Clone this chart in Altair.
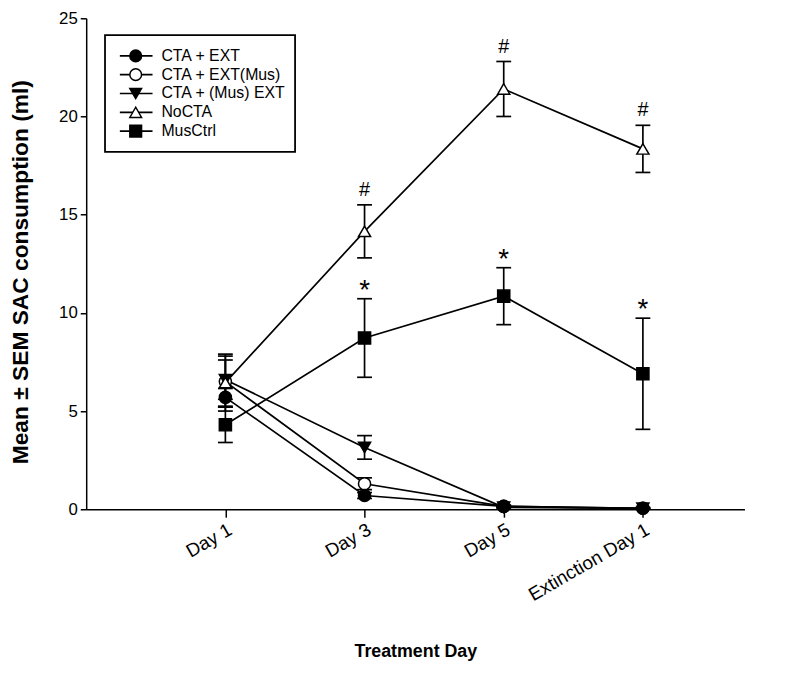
import altair as alt
import pandas as pd

days = ["Day 1", "Day 3", "Day 5", "Extinction Day 1"]
series = ["CTA + EXT", "CTA + EXT(Mus)", "CTA + (Mus) EXT", "NoCTA", "MusCtrl"]
draw_order = ["CTA + EXT(Mus)", "CTA + (Mus) EXT", "CTA + EXT", "MusCtrl", "NoCTA"]

cta_ext = [5.7, 0.7, 0.15, 0.05]
cta_ext_err = [0.45, 0.15, 0.05, 0.03]
cta_ext_mus = [6.5, 1.3, 0.15, 0.05]
cta_ext_mus_err = [1.3, 0.3, 0.05, 0.03]
cta_mus_ext = [6.6, 3.15, 0.1, 0.05]
cta_mus_ext_err = [1.0, 0.6, 0.05, 0.03]
nocta = [6.45, 14.15, 21.4, 18.35]
nocta_err = [1.45, 1.35, 1.4, 1.2]
musctrl = [4.3, 8.72, 10.85, 6.9]
musctrl_err = [0.9, 2.0, 1.45, 2.83]

annot_series = ["NoCTA", "NoCTA", "NoCTA", "MusCtrl", "MusCtrl", "MusCtrl"]
annot_day = ["Day 3", "Day 5", "Extinction Day 1", "Day 3", "Day 5", "Extinction Day 1"]
annot_sym = ["#", "#", "#", "*", "*", "*"]

means = [cta_ext, cta_ext_mus, cta_mus_ext, nocta, musctrl]
errs = [cta_ext_err, cta_ext_mus_err, cta_mus_ext_err, nocta_err, musctrl_err]

rows = []
for s, m, e in zip(series, means, errs):
    for i, d in enumerate(days):
        rows.append({"series": s, "day": d, "pos": i + 1, "mean": m[i],
                     "lo": m[i] - e[i], "hi": m[i] + e[i], "order": draw_order.index(s)})
df = pd.DataFrame(rows)

arows = []
for s, d, sym in zip(annot_series, annot_day, annot_sym):
    r = df[(df.series == s) & (df.day == d)].iloc[0]
    arows.append({"pos": r["pos"], "hi": r["hi"], "sym": sym})
adf = pd.DataFrame(arows)

FONT = "Liberation Sans"
shape_scale = alt.Scale(domain=series, range=["circle", "circle", "triangle-down", "triangle-up", "square"])
fill_scale = alt.Scale(domain=series, range=["black", "white", "black", "white", "black"])

label_expr = "datum.value == 1 ? 'Day 1' : datum.value == 2 ? 'Day 3' : datum.value == 3 ? 'Day 5' : 'Extinction Day 1'"

x_enc = alt.X("pos:Q", scale=alt.Scale(domain=[0, 4.73], nice=False, zero=False),
              axis=alt.Axis(values=[1, 2, 3, 4], labelExpr=label_expr, labelAngle=-30,
                            labelAlign="right", labelBaseline="top", labelFontSize=19,
                            labelFont=FONT, labelColor="black", tickSize=8, tickWidth=1.5,
                            tickColor="black", domainColor="black", domainWidth=1.5,
                            grid=False, title="Treatment Day", titleFont=FONT,
                            titleFontSize=18, titleFontWeight="bold", titleColor="black",
                            titleY=144, titleBaseline="middle", labelPadding=3))
y_scale = alt.Scale(domain=[0, 25], nice=False)
y_axis = alt.Axis(values=[0, 5, 10, 15, 20, 25], tickSize=6, tickWidth=1.5, tickColor="black",
                  domainColor="black", domainWidth=1.5, grid=False, labelFont=FONT,
                  labelFontSize=17, labelColor="black", labelPadding=3,
                  title="Mean ± SEM SAC consumption (ml)", titleFont=FONT, titleFontSize=23,
                  titleFontWeight="bold", titleColor="black", titleX=-66, titleY=256,
                  titleBaseline="middle", titleAlign="center", titleAngle=-90)

base = alt.Chart(df)
lines = base.mark_line(color="black", strokeWidth=1.7).encode(
    x=x_enc, y=alt.Y("mean:Q", scale=y_scale, axis=y_axis), detail="series:N")
bars = base.mark_rule(color="black", strokeWidth=1.7).encode(
    x="pos:Q", y="lo:Q", y2="hi:Q")
cap_hi = base.mark_tick(color="black", orient="horizontal", size=15, thickness=1.7, opacity=1).encode(
    x="pos:Q", y="hi:Q")
cap_lo = base.mark_tick(color="black", orient="horizontal", size=15, thickness=1.7, opacity=1).encode(
    x="pos:Q", y="lo:Q")
pts = base.mark_point(filled=True, stroke="black", strokeWidth=1.5, size=150, opacity=1).encode(
    x="pos:Q", y="mean:Q",
    shape=alt.Shape("series:N", scale=shape_scale, legend=None),
    fill=alt.Fill("series:N", scale=fill_scale, legend=None),
    order="order:Q")
ann_hash = alt.Chart(adf).transform_filter("datum.sym == '#'").mark_text(
    font=FONT, fontSize=20, color="black", baseline="bottom", dy=-5).encode(
    x="pos:Q", y="hi:Q", text="sym:N")
ann_star = alt.Chart(adf).transform_filter("datum.sym == '*'").mark_text(
    font=FONT, fontSize=28, color="black", baseline="bottom", dy=6).encode(
    x="pos:Q", y="hi:Q", text="sym:N")

main = alt.layer(lines, bars, cap_hi, cap_lo, pts, ann_hash, ann_star)

ldf = pd.DataFrame({"series": series, "rank": list(range(len(series)))})
ly = alt.Y("rank:Q", scale=alt.Scale(domain=[0, len(series) - 1], range=[38, 114], nice=False, zero=False), axis=None)
box = alt.Chart(pd.DataFrame({"a": [0]})).mark_rect(fill="white", stroke="black", strokeWidth=1.8).encode(
    x=alt.value(19), x2=alt.value(211), y=alt.value(17), y2=alt.value(135))
lrule = alt.Chart(ldf).mark_rule(color="black", strokeWidth=1.7).encode(
    x=alt.value(34), x2=alt.value(67), y=ly)
lpts = alt.Chart(ldf).mark_point(filled=True, stroke="black", strokeWidth=1.5, size=140, opacity=1).encode(
    x=alt.value(50), y=ly,
    shape=alt.Shape("series:N", scale=shape_scale, legend=None),
    fill=alt.Fill("series:N", scale=fill_scale, legend=None))
ltxt = alt.Chart(ldf).mark_text(font=FONT, fontSize=16, align="left", baseline="middle", color="black").encode(
    x=alt.value(76), y=ly, text="series:N")
legend = alt.layer(box, lrule, lpts, ltxt)

chart = alt.layer(main, legend).resolve_scale(y="independent").properties(
    width=665, height=496, autosize="none",
    padding={"left": 79, "top": 7, "right": 48, "bottom": 160},
    background="white"
).configure_view(stroke=None)

chart.save("out.html", embed_options={"renderer": "svg", "actions": False})
